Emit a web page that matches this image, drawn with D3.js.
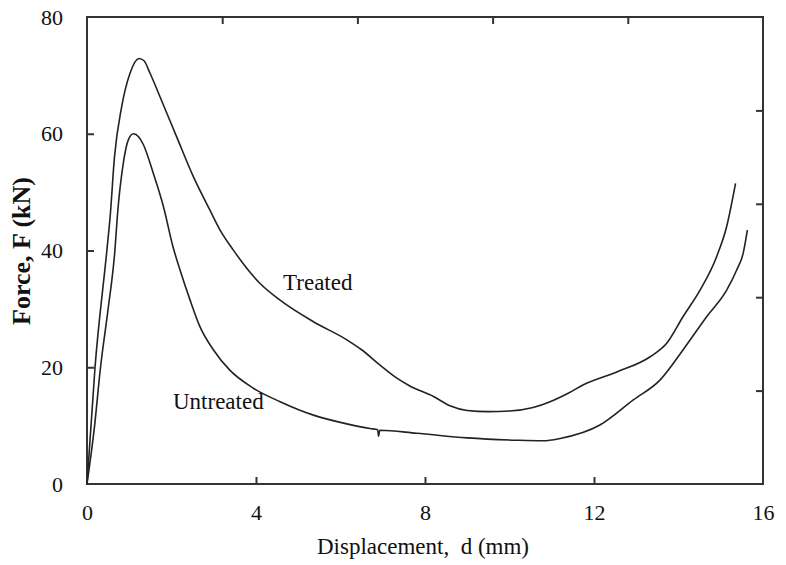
<!DOCTYPE html>
<html><head><meta charset="utf-8">
<script src="https://cdn.jsdelivr.net/npm/d3@7/dist/d3.min.js"></script>
<style>body{margin:0;background:#fff}svg{display:block}</style>
</head><body>
<script>
const untreatedD = [0,0.18,0.32,0.5,0.66,0.72,0.86,0.98,1.10,1.22,1.33,1.57,1.81,2.04,2.2,2.44,2.67,2.99,3.38,3.94,4.57,5.36,6.15,6.7,6.88,6.9,6.93,7.8,9.0,10.17,10.8,11.2,12.14,12.93,13.56,14.11,14.67,15.14,15.38,15.53,15.63];
const untreatedF = [0,10,20,30,40,46,55,59,60,59.5,58.2,53.2,47.5,40.5,36.7,31.5,27,23,19.5,16.4,14.1,11.8,10.3,9.5,9.3,8.2,9.2,8.7,7.9,7.5,7.4,7.8,10.1,14.4,17.8,23.0,28.7,33.2,36.7,39.5,43.5];
const treatedD = [0,0.19,0.47,0.55,0.65,0.82,1.02,1.23,1.35,1.49,1.73,2.12,2.52,2.91,3.15,3.46,4.09,4.57,5.36,6.15,6.5,6.93,7.3,7.64,8.2,8.59,9.0,9.5,10.0,10.56,10.96,11.4,11.75,12.54,13.33,13.72,14.11,14.51,14.9,15.14,15.35];
const treatedF = [0,20,40,46,56,64.6,70.4,72.9,72.5,70.4,66.3,59.5,52.6,46.9,43.5,40.1,34.4,31.5,27.8,24.7,23,20.4,18.3,16.8,15.0,13.4,12.6,12.4,12.5,13.1,14.1,15.6,17.0,19.2,21.8,24.1,28.7,33.2,38.9,44.1,51.5];
const xTicks = [0,4,8,12,16];
const yTicks = [0,20,40,60,80];
const xLabel = "Displacement,  d (mm)";
const yLabel = "Force, F (kN)";

const W = 786, H = 565;
const L = 87, R = 763, T = 17, B = 484;
const x = d3.scaleLinear().domain([0,16]).range([L,R]);
const y = d3.scaleLinear().domain([0,80]).range([B,T]);
const svg = d3.select("body").append("svg").attr("width",W).attr("height",H);
const font = "'Liberation Serif','Times New Roman',serif";
const axisCol = "#333";

svg.append("rect").attr("x",L).attr("y",T).attr("width",R-L).attr("height",B-T)
  .attr("fill","none").attr("stroke",axisCol).attr("stroke-width",2);

const tl = 7;
const gx = svg.append("g").attr("transform",`translate(0,${B})`)
  .call(d3.axisBottom(x).tickValues(xTicks).tickSize(-tl).tickPadding(20).tickFormat(d3.format("d")));
const gy = svg.append("g").attr("transform",`translate(${L},0)`)
  .call(d3.axisLeft(y).tickValues(yTicks).tickSize(-tl).tickPadding(24).tickFormat(d3.format("d")));
const xTop = d3.scaleLinear().domain([0,5]).range([L,R]);
const yRight = d3.scaleLinear().domain([0,5]).range([B,T]);
svg.append("g").attr("transform",`translate(0,${T})`)
  .call(d3.axisTop(xTop).tickValues([1,2,3,4]).tickSize(-tl).tickFormat(""));
svg.append("g").attr("transform",`translate(${R},0)`)
  .call(d3.axisRight(yRight).tickValues([1,2,3,4]).tickSize(-tl).tickFormat(""));
svg.selectAll(".domain").remove();
svg.selectAll(".tick line").attr("stroke",axisCol).attr("stroke-width",2);
svg.selectAll(".tick text").attr("font-family",font).attr("font-size",22).attr("fill","#111");
gx.selectAll(".tick line").filter(d=>d===0||d===16).remove();
gy.selectAll(".tick line").filter(d=>d===0||d===80).remove();

const line = d3.line().x(d=>x(d[0])).y(d=>y(d[1])).curve(d3.curveMonotoneX);
const tr = treatedD.map((d,i)=>[d,treatedF[i]]);
const un = untreatedD.map((d,i)=>[d,untreatedF[i]]);
svg.append("path").attr("d",line(tr)).attr("fill","none").attr("stroke","#222").attr("stroke-width",1.6);
svg.append("path").attr("d",line(un)).attr("fill","none").attr("stroke","#222").attr("stroke-width",1.6);

svg.append("text").attr("x",x(4.64)).attr("y",y(33.2)).attr("font-family",font).attr("font-size",23)
  .attr("fill","#111").text("Treated");
svg.append("text").attr("x",x(2.035)).attr("y",y(12.85)).attr("font-family",font).attr("font-size",23)
  .attr("fill","#111").text("Untreated");

svg.append("text").attr("x",423).attr("y",554).attr("text-anchor","middle")
  .attr("font-family",font).attr("font-size",23).attr("fill","#111").style("white-space","pre")
  .attr("xml:space","preserve").text(xLabel);
svg.append("text").attr("transform",`translate(30,251) rotate(-90)`).attr("text-anchor","middle")
  .attr("font-family",font).attr("font-size",26).attr("font-weight","bold").attr("fill","#111").text(yLabel);
</script>
</body></html>
